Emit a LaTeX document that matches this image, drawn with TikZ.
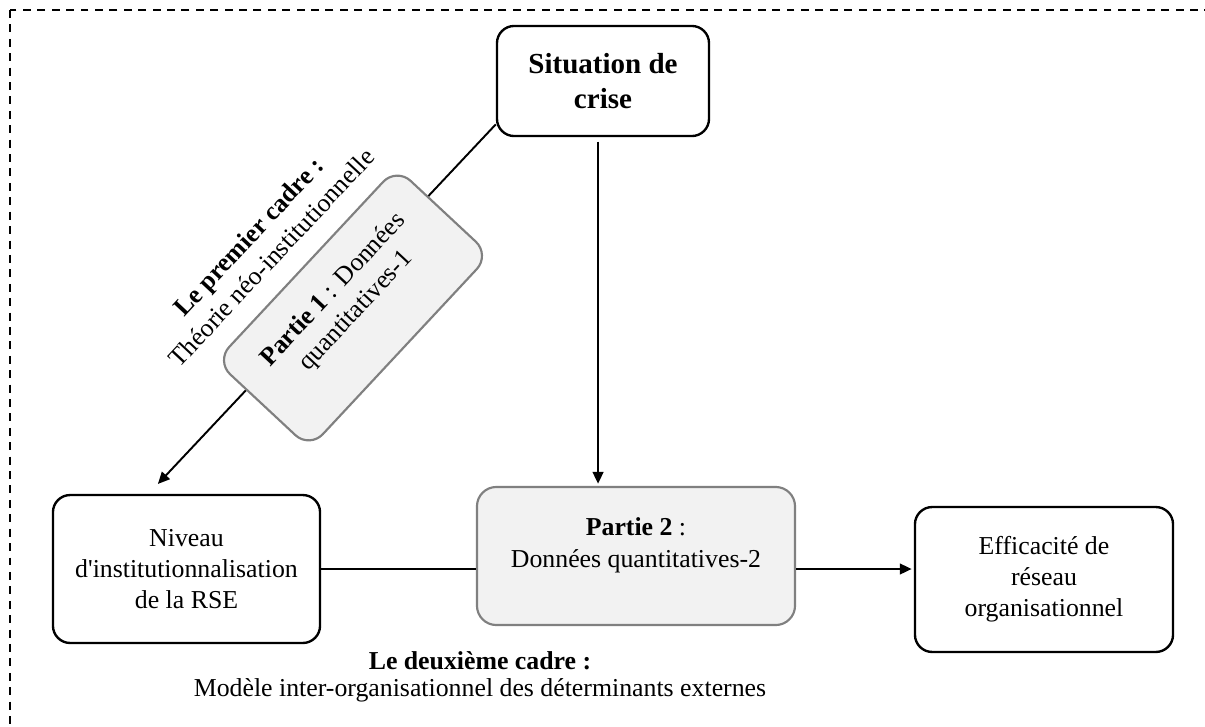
\documentclass[12pt,tikz,border=0pt]{standalone}
\usepackage{fontspec}
\setmainfont{Liberation Serif}
\usetikzlibrary{arrows.meta}
\definecolor{partfill}{HTML}{F2F2F2}
\definecolor{partline}{HTML}{808080}
\tikzset{
	box/.style={draw, line width=1.1pt, rounded corners=8pt, align=center, inner sep=2pt},
	part/.style={draw=partline, fill=partfill, line width=1pt, rounded corners=9pt, align=center, inner sep=2pt},
	link/.style={line width=0.9pt},
	arr/.style={link, -{Triangle[length=5.5pt,width=5pt]}},
}

\begin{document}
\begin{tikzpicture}[x=0.465pt, y=-0.465pt]
	\useasboundingbox (0,0) rectangle (1205,727);
	\clip (0,0) rectangle (1205,727);
	\draw [line width=0.9pt, dash pattern=on 3.7pt off 3pt] (10,10) rectangle (1230,760);

	\node [box, minimum width=98.6pt, minimum height=51.2pt, font=\fontsize{13.5}{16}\selectfont\bfseries] (sit) at (603,81) {Situation de\\crise};
	\node [box, minimum width=124.2pt, minimum height=68.8pt] (niv) at (186.5,569) {Niveau\\d\textquotesingle institutionnalisation\\de la RSE};
	\node [part, minimum width=147.9pt, minimum height=64.2pt] (p2) at (636,556) {\textbf{Partie 2} :\\Données quantitatives-2\\[-2pt]\mbox{}};
	\node [box, minimum width=120pt, minimum height=67.4pt] (eff) at (1044,579.5) {Efficacité de\\réseau\\organisationnel};

	\coordinate (top) at ([xshift=-2.3pt]sit.south);
	\draw [arr, shorten <=2pt, shorten >=1pt] (top) -- (top |- p2.north);
	\draw [link] (niv.east) -- (niv.east -| p2.west);
	\draw [arr, shorten >=1pt] (niv.east -| p2.east) -- (niv.east -| eff.west);
	\draw [arr] ([yshift=6pt]sit.south west) -- ([xshift=-13.3pt,yshift=4.6pt]niv.north);

	\node [part, rotate=47, minimum width=123pt, minimum height=59.5pt] (p1) at (353,308) {\textbf{Partie 1} : Données\\quantitatives-1\\[-2pt]\mbox{}};
	\node [rotate=47, align=center] (cadre1) at (260,247) {\textbf{Le premier cadre :}\\Théorie néo-institutionnelle};
	\node [align=center] (cadre2) at (480,677) {\textbf{Le deuxième cadre :}\\[-2pt]Modèle inter-organisationnel des déterminants externes};
\end{tikzpicture}
\end{document}
